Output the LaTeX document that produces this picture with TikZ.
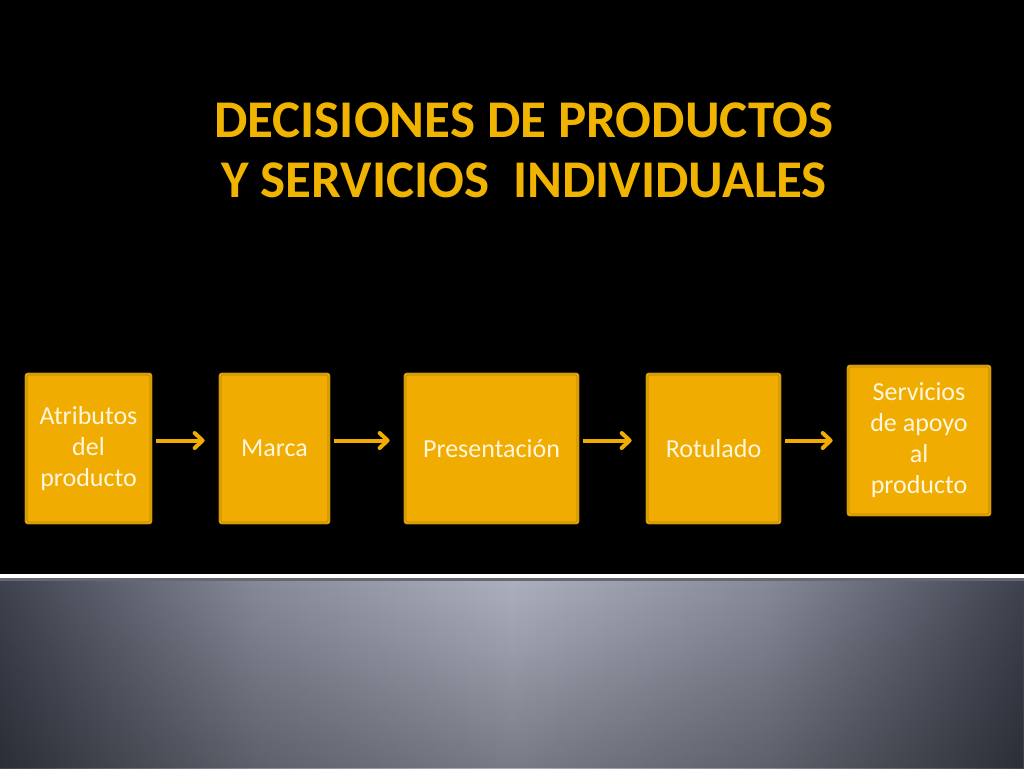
\documentclass[tikz,border=0pt]{standalone}
\usepackage{fontspec}
\setmainfont{Carlito}
\usetikzlibrary{arrows.meta,fadings}

\definecolor{slidegold}{RGB}{240,180,0}
\definecolor{boxfill}{RGB}{240,172,0}
\definecolor{boxedge}{RGB}{176,130,14}
\definecolor{boxtext}{RGB}{255,246,222}
\definecolor{greyedge}{RGB}{62,66,78}
\definecolor{greyquart}{RGB}{134,138,152}
\definecolor{greymid}{RGB}{172,176,190}

\pgfdeclarehorizontalshading{panelshade}{100bp}{color(0bp)=(greyedge);
  color(25bp)=(greyedge); color(37.5bp)=(greyquart); color(50bp)=(greymid);
  color(62.5bp)=(greyquart); color(75bp)=(greyedge); color(100bp)=(greyedge)}
\tikzfading[name=fadedown, top color=transparent!100, bottom color=transparent!70]

\tikzset{
  stepbox/.style = {draw = boxedge, line width = 0.7pt, double = boxfill,
    double distance = 1.4pt, fill = boxfill, rounded corners = 2pt,
    minimum height = 149pt, text = boxtext, align = center,
    font = \fontsize{26}{31}\selectfont, inner sep = 0pt},
  flow/.style = {draw = boxfill, line width = 4pt,
    -{Straight Barb[length = 8pt, width = 15pt, round]},
    shorten < = 5pt, shorten > = 15pt}
}

\begin{document}
\begin{tikzpicture}[x = 1pt, y = -1pt]
  \useasboundingbox (0, 0) rectangle (1024, 768);
  \fill[black] (0, 0) rectangle (1024, 768);

  % lower panel
  \fill[white] (0, 574) rectangle (1024, 578);
  \fill[greyedge!80!white] (0, 578) rectangle (1024, 581);
  \shade[shading = panelshade] (0, 581) rectangle (1024, 768);
  \fill[black, path fading = fadedown] (0, 581) rectangle (1024, 768);

  % title
  \node[text = slidegold, align = center, font = \fontsize{53}{60}\selectfont\bfseries]
    (title) at (524, 150) {DECISIONES DE PRODUCTOS\\Y SERVICIOS\ \ INDIVIDUALES};

  % boxes
  \node[stepbox, minimum width = 125pt] (atrib) at (88.5, 448.5) {Atributos\\del\\producto};
  \node[stepbox, minimum width = 109pt] (marca) at (274.5, 448.5) {Marca};
  \node[stepbox, minimum width = 173pt] (pres) at (491.5, 448.5) {Presentación};
  \node[stepbox, minimum width = 133pt] (rotul) at (713.5, 448.5) {Rotulado};
  \node[stepbox, minimum width = 142pt] (serv) at (919, 440.5) {Servicios\\de apoyo\\al\\producto};

  % arrows
  \draw[flow] ([yshift = 8pt]atrib.east) -- ([yshift = 8pt]marca.west);
  \draw[flow] ([yshift = 8pt]marca.east) -- ([yshift = 8pt]pres.west);
  \draw[flow] ([yshift = 8pt]pres.east) -- ([yshift = 8pt]rotul.west);
  \draw[flow] ([yshift = 8pt]rotul.east) -- ([yshift = 8pt]rotul.east -| serv.west);
\end{tikzpicture}
\end{document}
